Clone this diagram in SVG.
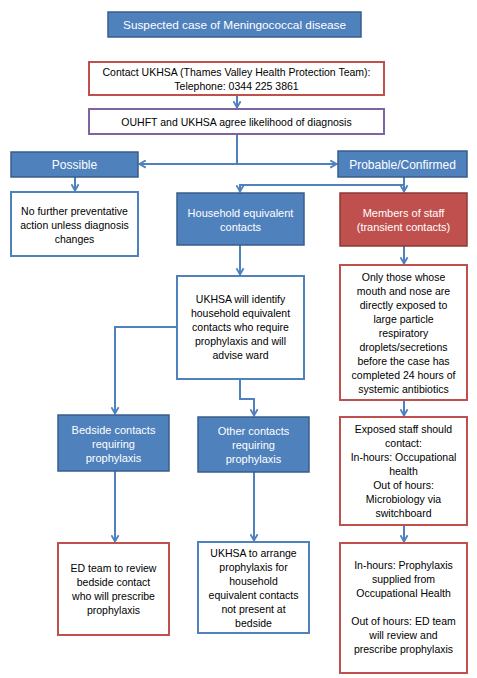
<svg xmlns="http://www.w3.org/2000/svg" width="477" height="678" viewBox="0 0 477 678">
<defs>
<marker id="arr" markerUnits="userSpaceOnUse" viewBox="0 0 10 10" refX="9" refY="5" markerWidth="9" markerHeight="9" orient="auto">
<path d="M1.5,1 L8.5,5 L1.5,9" fill="none" stroke="#4F81BD" stroke-width="2"/>
</marker>
<style>
text{font-family:"Liberation Sans",Arial,sans-serif;font-size:10.5px;text-anchor:middle;dominant-baseline:central;fill:#000}
.w{fill:#fff;font-size:11px}
.bf{fill:#4F81BD;stroke:#385D8A;stroke-width:1.5}
.rf{fill:#C0504D;stroke:#8C3836;stroke-width:1.5}
.bo{fill:#fff;stroke:#4F81BD;stroke-width:2}
.ro{fill:#fff;stroke:#C0504D;stroke-width:2}
.po{fill:#fff;stroke:#8064A2;stroke-width:2}
.c path{fill:none;stroke:#4F81BD;stroke-width:2}
</style>
</defs>
<rect width="477" height="678" fill="#fff"/>
<g class="c" id="connectors">
<path d="M237,95 V108" marker-end="url(#arr)"/>
<path d="M237,134 V164"/>
<path d="M237,164 H139" marker-end="url(#arr)"/>
<path d="M237,164 H337" marker-end="url(#arr)"/>
<path d="M75,177 V191" marker-end="url(#arr)"/>
<path d="M404,177 V192" marker-end="url(#arr)"/>
<path d="M404,185 H240 V192" marker-end="url(#arr)"/>
<path d="M240,245 V275" marker-end="url(#arr)"/>
<path d="M404,246 V264" marker-end="url(#arr)"/>
<path d="M177,327 H115 V414" marker-end="url(#arr)"/>
<path d="M240,379 V399 H254 V416" marker-end="url(#arr)"/>
<path d="M404,400 V416" marker-end="url(#arr)"/>
<path d="M115,471 V542" marker-end="url(#arr)"/>
<path d="M254,472 V541" marker-end="url(#arr)"/>
<path d="M404,525 V542" marker-end="url(#arr)"/>
</g>
<g id="title"><rect class="bf" x="108" y="12" width="253" height="25"/><text class="w" x="234.5" y="25" style="font-size:11.8px">Suspected case of Meningococcal disease</text></g>
<g id="contact"><rect class="ro" x="89" y="62" width="295" height="33"/><text x="236.5" y="72">Contact UKHSA (Thames Valley Health Protection Team):</text><text x="236.5" y="86">Telephone: 0344 225 3861</text></g>
<g id="agree"><rect class="po" x="89" y="109" width="295" height="25"/><text x="236.5" y="121.5">OUHFT and UKHSA agree likelihood of diagnosis</text></g>
<g id="possible"><rect class="bf" x="11" y="152" width="127" height="25"/><text class="w" x="74.5" y="164.5" style="font-size:12px">Possible</text></g>
<g id="probable"><rect class="bf" x="338" y="151" width="129" height="26"/><text class="w" x="402.5" y="164.5" style="font-size:12px">Probable/Confirmed</text></g>
<g id="nofurther"><rect class="bo" x="11" y="192" width="127" height="64"/><text x="74.5" y="210.7">No further preventative</text><text x="74.5" y="224.7">action unless diagnosis</text><text x="74.5" y="238.7">changes</text></g>
<g id="household"><rect class="bf" x="177" y="193" width="127" height="52"/><text class="w" x="240.5" y="212.7">Household equivalent</text><text class="w" x="240.5" y="226.5">contacts</text></g>
<g id="members"><rect class="rf" x="340" y="193" width="127" height="53"/><text class="w" x="403.5" y="212.7">Members of staff</text><text class="w" x="403.5" y="226.7">(transient contacts)</text></g>
<g id="identify"><rect class="bo" x="177" y="276" width="127" height="103"/><text x="240.5" y="299.3">UKHSA will identify</text><text x="240.5" y="313.3">household equivalent</text><text x="240.5" y="327.3">contacts who require</text><text x="240.5" y="341.3">prophylaxis and will</text><text x="240.5" y="355.3">advise ward</text></g>
<g id="onlythose"><rect class="ro" x="340" y="265" width="127" height="135"/><text x="403.5" y="276.7">Only those whose</text><text x="403.5" y="290.7">mouth and nose are</text><text x="403.5" y="304.7">directly exposed to</text><text x="403.5" y="318.7">large particle</text><text x="403.5" y="332.7">respiratory</text><text x="403.5" y="346.7">droplets/secretions</text><text x="403.5" y="360.7">before the case has</text><text x="403.5" y="374.7">completed 24 hours of</text><text x="403.5" y="388.7">systemic antibiotics</text></g>
<g id="bedside"><rect class="bf" x="58" y="415" width="111" height="56"/><text class="w" x="113.5" y="430">Bedside contacts</text><text class="w" x="113.5" y="444">requiring</text><text class="w" x="113.5" y="458">prophylaxis</text></g>
<g id="other"><rect class="bf" x="198" y="417" width="111" height="55"/><text class="w" x="253.5" y="431.3">Other contacts</text><text class="w" x="253.5" y="445.3">requiring</text><text class="w" x="253.5" y="459.3">prophylaxis</text></g>
<g id="exposed"><rect class="ro" x="340" y="417" width="127" height="108"/><text x="403.5" y="429.3">Exposed staff should</text><text x="403.5" y="443.3">contact:</text><text x="403.5" y="457.3">In-hours: Occupational</text><text x="403.5" y="471.3">health</text><text x="403.5" y="485.3">Out of hours:</text><text x="403.5" y="499.3">Microbiology via</text><text x="403.5" y="513.3">switchboard</text></g>
<g id="edteam"><rect class="ro" x="58" y="543" width="111" height="92"/><text x="113.5" y="567.7">ED team to review</text><text x="113.5" y="581.7">bedside contact</text><text x="113.5" y="595.7">who will prescribe</text><text x="113.5" y="609.7">prophylaxis</text></g>
<g id="arrange"><rect class="bo" x="198" y="542" width="111" height="91"/><text x="253.5" y="552.7">UKHSA to arrange</text><text x="253.5" y="566.7">prophylaxis for</text><text x="253.5" y="580.7">household</text><text x="253.5" y="594.7">equivalent contacts</text><text x="253.5" y="608.7">not present at</text><text x="253.5" y="622.7">bedside</text></g>
<g id="supplied"><rect class="ro" x="340" y="543" width="127" height="130"/><text x="403.5" y="565.3">In-hours: Prophylaxis</text><text x="403.5" y="579.3">supplied from</text><text x="403.5" y="593.3">Occupational Health</text><text x="403.5" y="621.3">Out of hours: ED team</text><text x="403.5" y="635.3">will review and</text><text x="403.5" y="649.3">prescribe prophylaxis</text></g>
</svg>
